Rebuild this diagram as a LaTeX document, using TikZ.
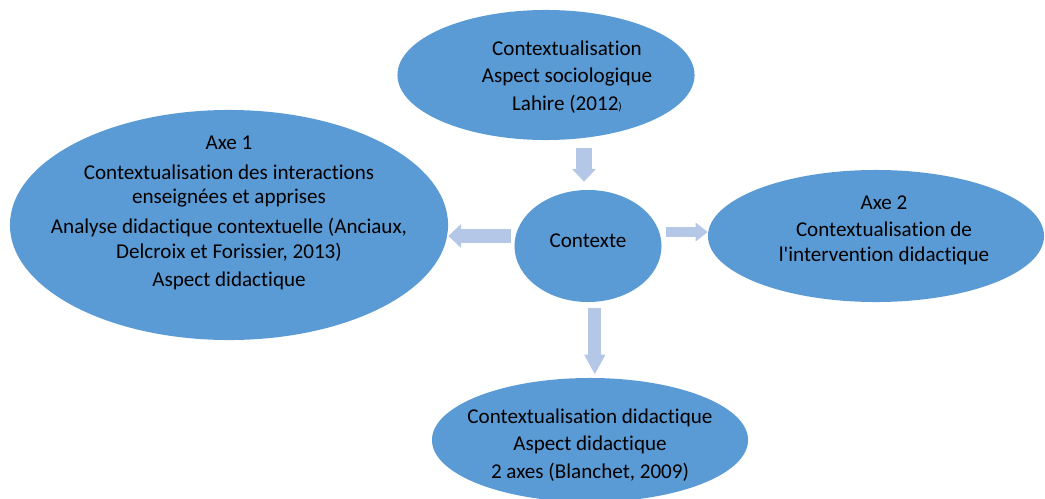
\documentclass[tikz,border=0pt]{standalone}
\usepackage{fontspec}
\setmainfont{Carlito}[Ligatures={NoCommon,TeXOff}]
\usetikzlibrary{arrows.meta,shapes.geometric}
\definecolor{bleu}{HTML}{5B9BD5}
\definecolor{bleuclair}{HTML}{B4C7E7}
\tikzstyle{bulle} = [ellipse, fill=bleu, draw=none, inner sep=0pt]
\tikzstyle{texte} = [align=center, inner sep=0pt, font=\fontsize{15}{17.3}\selectfont]
\tikzstyle{fleche} = [draw=bleuclair, line width=0.33cm,
    -{Triangle[width=0.58cm,length=0.32cm]}]

\begin{document}
\begin{tikzpicture}[x=0.025cm,y=-0.025cm]
  \useasboundingbox (0,0) rectangle (1045,499);

  \node[bulle,minimum width=7.425cm,minimum height=3.25cm] (soc)   at (546,75)  {};
  \node[bulle,minimum width=10.95cm,minimum height=5.75cm] (axe1)  at (229,225) {};
  \node[bulle,minimum width=3.675cm,minimum height=2.8cm]  (ctx)   at (588,246) {};
  \node[bulle,minimum width=8.4cm,minimum height=3.3cm]    (axe2)  at (876,236) {};
  \node[bulle,minimum width=7.9cm,minimum height=3.1cm]    (didac) at (590,440) {};

  \node[texte] (socT) at (567,77) {Contextualisation\\[2.5pt] Aspect sociologique\\[2.5pt]
    Lahire (2012{\fontsize{8}{10}\selectfont)}};
  \node[texte] (axe1T) at (229,213) {Axe 1\\[4pt] Contextualisation des interactions\\
    enseignées et apprises\\[4pt] Analyse didactique contextuelle (Anciaux,\\
    Delcroix et Forissier, 2013)\\[3pt] Aspect didactique};
  \node[texte] (ctxT) at (588,241) {Contexte};
  \node[texte] (axe2T) at (884,230) {Axe 2\\[2.5pt] Contextualisation de\\
    l'intervention didactique};
  \node[texte] (didacT) at (590,445) {Contextualisation didactique\\[2.5pt]
    Aspect didactique\\[2.5pt] 2 axes (Blanchet, 2009)};

  % fleches
  \draw[fleche,line width=0.38cm,shorten <=0.2cm,shorten >=0.2cm]
    ([xshift=-0.1cm]soc.south -| ctx.north) -- ([xshift=-0.1cm]ctx.north);
  \draw[fleche,shorten <=0.08cm]
    ([yshift=0.25cm]ctx.west) -- ([yshift=0.25cm]ctx.west -| axe1.east);
  \draw[fleche,line width=0.25cm,-{Triangle[width=0.45cm,length=0.3cm]},shorten <=0.1cm]
    ([yshift=0.35cm]ctx.east) -- ([yshift=0.35cm]ctx.east -| axe2.west);
  \draw[fleche,line width=0.32cm,-{Triangle[width=0.5cm,length=0.5cm]},shorten <=0.15cm,shorten >=0.08cm]
    ([xshift=0.17cm]ctx.south) -- ([xshift=0.17cm]ctx.south |- didac.north);
\end{tikzpicture}
\end{document}
